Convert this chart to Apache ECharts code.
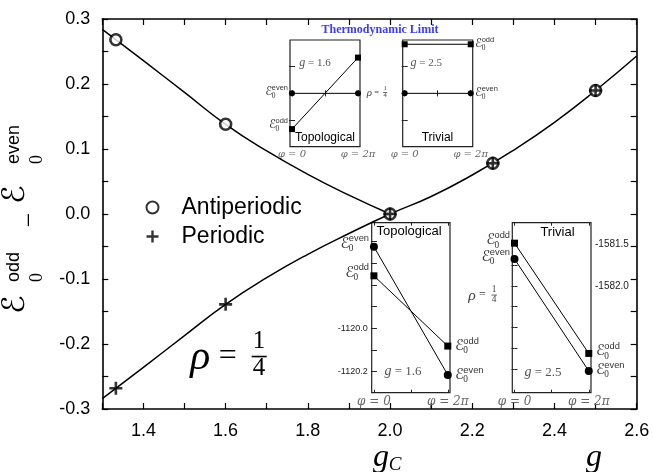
<!DOCTYPE html>
<html><head><meta charset="utf-8">
<script src="https://cdn.jsdelivr.net/npm/echarts@6/dist/echarts.min.js"></script>
<style>html,body{margin:0;padding:0;background:#fff}#c{width:653px;height:472px}</style>
</head><body><div id="c"></div><script>
// ---------------- main panel data ----------------
const gAntiperiodic = [1.333, 1.6, 2.0, 2.25, 2.5];
const dAntiperiodic = [0.268, 0.138, 0.0, 0.078, 0.19];
const gPeriodic = [1.333, 1.6, 2.0, 2.25, 2.5];
const dPeriodic = [-0.268, -0.139, 0.0, 0.078, 0.19];
const gUpperCurve = [1.3, 1.4, 1.5, 1.6, 1.7, 1.8, 1.9, 2.0];
const dUpperCurve = [0.284, 0.236, 0.187, 0.138, 0.097, 0.061, 0.029, 0.0];
const gLowerCurve = [1.3, 1.4, 1.5, 1.6, 1.7, 1.8, 1.9, 2.0, 2.1, 2.2, 2.3, 2.4, 2.5, 2.6];
const dLowerCurve = [-0.284, -0.236, -0.187, -0.139, -0.098, -0.062, -0.030, 0.0, 0.027, 0.060, 0.098, 0.141, 0.19, 0.243];
const xTicks = [1.3, 1.4, 1.5, 1.6, 1.7, 1.8, 1.9, 2.0, 2.1, 2.2, 2.3, 2.4, 2.5, 2.6];
const xTickLabels = ['1.4', '1.6', '1.8', '2.0', '2.2', '2.4', '2.6'];
const yTicks = [-0.3, -0.25, -0.2, -0.15, -0.1, -0.05, 0, 0.05, 0.1, 0.15, 0.2, 0.25, 0.3];
const yTickLabels = ['-0.3', '-0.2', '-0.1', '0.0', '0.1', '0.2', '0.3'];
const seriesNames = ['Antiperiodic', 'Periodic'];

// ---------------- inset data ----------------
const phiPoints = [0, 1];
const phiTicks = [0, 0.5, 1];
const phiLabels = ['φ = 0', 'φ = 2π'];
const thermoTicks = [-0.5, 0, 0.5];
const thermoTopoEven = [0, 0];
const thermoTopoOdd = [-0.67, 0.67];
const thermoTrivEven = [0, 0];
const thermoTrivOdd = [0.92, 0.92];
const finiteTopoEven = [-1119.624, -1120.215];
const finiteTopoOdd = [-1119.758, -1120.082];
const finiteTopoTicks = [-1120.2, -1120.1, -1120.0, -1119.9, -1119.8, -1119.7, -1119.6];
const finiteTopoTickLabels = ['-1120.2', '-1120.0'];
const finiteTrivEven = [-1581.68, -1583.02];
const finiteTrivOdd = [-1581.49, -1582.81];
const finiteTrivTicks = [-1583.0, -1582.75, -1582.5, -1582.25, -1582.0, -1581.75, -1581.5];
const finiteTrivTickLabels = ['-1582.0', '-1581.5'];
const insetTitles = ['Topological', 'Trivial', 'Topological', 'Trivial'];
const insetCoupling = ['g = 1.6', 'g = 2.5', 'g = 1.6', 'g = 2.5'];

const zip = (xs, ys) => xs.map((x, i) => [x, ys[i]]);
const plusPath = 'path://M0,4.8H12V7.2H0Z M4.8,0H7.2V12H4.8Z';

function mainX(pos, withLabels) {
  return {
    type: 'value', gridIndex: 0, position: pos, min: 1.3, max: 2.6,
    axisLine: { show: true, onZero: false, lineStyle: { color: '#000', width: 1.6 } },
    axisTick: { show: true, inside: true, length: 6, customValues: xTicks, lineStyle: { color: '#000', width: 1.2 } },
    axisLabel: withLabels ? { show: true, customValues: xTickLabels.map(Number), formatter: v => v.toFixed(1),
      fontSize: 18, fontFamily: 'Arial', color: '#000', margin: 13 } : { show: false },
    splitLine: { show: false }
  };
}
function mainY(pos, withLabels) {
  return {
    type: 'value', gridIndex: 0, position: pos, min: -0.3, max: 0.3,
    axisLine: { show: true, onZero: false, lineStyle: { color: '#000', width: 1.6 } },
    axisTick: { show: true, inside: true, length: 6, customValues: yTicks, lineStyle: { color: '#000', width: 1.2 } },
    axisLabel: withLabels ? { show: true, customValues: yTickLabels.map(Number), formatter: v => v.toFixed(1),
      fontSize: 18, fontFamily: 'Arial', color: '#000', margin: 12 } : { show: false },
    splitLine: { show: false }
  };
}
function insetX(gi, pos, font) {
  return {
    type: 'value', gridIndex: gi, position: pos, min: -0.03, max: 1.03,
    axisLine: { show: false },
    axisTick: { show: true, inside: true, length: 3, customValues: phiTicks, lineStyle: { color: '#222', width: 1 } },
    axisLabel: pos === 'bottom' ? { show: true, customValues: phiPoints,
      formatter: v => (v < 0.5 ? phiLabels[0] : phiLabels[1]),
      fontFamily: '"DejaVu Serif", serif', fontStyle: 'italic', fontSize: font, color: '#666', margin: 3 } : { show: false },
    splitLine: { show: false }
  };
}
function insetY(gi, pos, min, max, ticks, labels, labelSide, font) {
  return {
    type: 'value', gridIndex: gi, position: pos, min: min, max: max,
    axisLine: { show: false },
    axisTick: { show: true, inside: true, length: 3, customValues: ticks, lineStyle: { color: '#222', width: 1 } },
    axisLabel: (labels && pos === labelSide) ? { show: true, customValues: labels.map(Number), formatter: v => v.toFixed(1),
      fontSize: font, fontFamily: 'Arial', color: '#222', margin: 4 } : { show: false },
    splitLine: { show: false }
  };
}
const insetGrid = (l, t, w, h) => ({ left: l, top: t, width: w, height: h, show: true,
  backgroundColor: '#fff', borderColor: '#222', borderWidth: 1.2 });

function levelSeries(k, ys, symbol, size) {
  return { type: 'line', xAxisIndex: 2 * k, yAxisIndex: 2 * k, data: zip(phiPoints, ys),
    symbol: symbol, symbolSize: size, showSymbol: true, clip: false, silent: true,
    itemStyle: { color: '#000' }, lineStyle: { color: '#000', width: 1 }, z: 5 };
}

const chart = echarts.init(document.getElementById('c'));
chart.setOption({
  animation: false,
  backgroundColor: '#fff',
  grid: [
    { left: 102.3, top: 19, width: 534.4, height: 390 },
    insetGrid(290, 40, 70, 106.7),
    insetGrid(402.7, 40, 70, 106.7),
    insetGrid(371.7, 222.7, 78.3, 170),
    insetGrid(512.3, 222.7, 78.7, 170)
  ],
  xAxis: [
    mainX('bottom', true), mainX('top', false),
    insetX(1, 'bottom', 10), insetX(1, 'top', 10),
    insetX(2, 'bottom', 10), insetX(2, 'top', 10),
    insetX(3, 'bottom', 12), insetX(3, 'top', 12),
    insetX(4, 'bottom', 12), insetX(4, 'top', 12)
  ],
  yAxis: [
    mainY('left', true), mainY('right', false),
    insetY(1, 'left', -1, 1, thermoTicks, null, null, 9), insetY(1, 'right', -1, 1, thermoTicks, null, null, 9),
    insetY(2, 'left', -1, 1, thermoTicks, null, null, 9), insetY(2, 'right', -1, 1, thermoTicks, null, null, 9),
    insetY(3, 'left', -1120.297, -1119.513, finiteTopoTicks, finiteTopoTickLabels, 'left', 9),
    insetY(3, 'right', -1120.297, -1119.513, finiteTopoTicks, finiteTopoTickLabels, 'left', 9),
    insetY(4, 'left', -1583.28, -1581.245, finiteTrivTicks, finiteTrivTickLabels, 'right', 10),
    insetY(4, 'right', -1583.28, -1581.245, finiteTrivTicks, finiteTrivTickLabels, 'right', 10)
  ],
  legend: {
    data: seriesNames, orient: 'vertical', left: 140.5, top: 191, itemWidth: 12, itemHeight: 12, itemGap: 6,
    textStyle: { fontSize: 23, fontFamily: 'Arial', color: '#000', padding: [0, 0, 0, 18] },
    selectedMode: false
  },
  series: [
    { type: 'line', xAxisIndex: 0, yAxisIndex: 0, data: zip(gUpperCurve, dUpperCurve), smooth: 0.5,
      showSymbol: false, silent: true, lineStyle: { color: '#000', width: 1.5 }, z: 2 },
    { type: 'line', xAxisIndex: 0, yAxisIndex: 0, data: zip(gLowerCurve, dLowerCurve), smooth: 0.5,
      showSymbol: false, silent: true, lineStyle: { color: '#000', width: 1.5 }, z: 2 },
    { name: seriesNames[0], type: 'scatter', xAxisIndex: 0, yAxisIndex: 0, data: zip(gAntiperiodic, dAntiperiodic),
      symbol: 'circle', symbolSize: 11, itemStyle: { color: '#fff', borderColor: '#000', borderWidth: 2.6 }, z: 3 },
    { name: seriesNames[1], type: 'scatter', xAxisIndex: 0, yAxisIndex: 0, data: zip(gPeriodic, dPeriodic),
      symbol: plusPath, symbolSize: 13, itemStyle: { color: '#000' }, z: 4 },
    levelSeries(1, thermoTopoEven, 'circle', 6),
    levelSeries(1, thermoTopoOdd, 'rect', 6),
    levelSeries(2, thermoTrivEven, 'circle', 6),
    levelSeries(2, thermoTrivOdd, 'rect', 6),
    levelSeries(3, finiteTopoEven, 'circle', 8),
    levelSeries(3, finiteTopoOdd, 'rect', 7),
    levelSeries(4, finiteTrivEven, 'circle', 8),
    levelSeries(4, finiteTrivOdd, 'rect', 7)
  ]
});

// ---------------- annotations ----------------
const mctx = document.createElement('canvas').getContext('2d');
const tw = (t, f) => { mctx.font = f; return mctx.measureText(t).width; };
const px = (k, x, y) => chart.convertToPixel({ xAxisIndex: 2 * k, yAxisIndex: 2 * k }, [x, y]);

function T(x, y, text, font, fill, align, extra) {
  const a = align || 'center';
  return { type: 'text', x: x, y: y, z: 100, silent: true,
    style: Object.assign({ text: text, font: font, fill: fill || '#000', align: a, verticalAlign: 'middle',
      textAlign: a, textVerticalAlign: 'middle' }, extra || {}) };
}
const EFONT = s => s + 'px "DejaVu Serif", "DejaVu Sans", serif';
function eLabel(x, y, sup, s, side) {
  const fe = EFONT(s), fs = (0.62 * s) + 'px Arial', fz = (0.62 * s) + 'px "Liberation Serif", serif';
  const ew = tw('ℰ', fe) * 0.92;
  const total = ew + Math.max(tw(sup, fs), tw('0', fz));
  const x0 = side === 'right' ? x - total : x;
  const c = '#333';
  return { type: 'group', x: x0, y: y, z: 100, silent: true, children: [
    T(0, 0, 'ℰ', fe, c, 'left'),
    T(ew, -0.33 * s, sup, fs, c, 'left'),
    T(ew, 0.33 * s, '0', fz, c, 'left')
  ] };
}
function rhoQuarter(cx, cy, s, color) {
  const c = color || '#000';
  return { type: 'group', x: cx, y: cy, z: 100, silent: true, children: [
    T(-0.83 * s, 0.05 * s, 'ρ', 'italic ' + (1.3 * s) + 'px "Liberation Serif", serif', c),
    T(0.03 * s, 0, '=', (1.0 * s) + 'px "Liberation Serif", serif', c),
    T(1.01 * s, -0.47 * s, '1', (0.78 * s) + 'px "Liberation Serif", serif', c),
    { type: 'rect', z: 100, silent: true, shape: { x: 0.78 * s, y: -0.03 * s, width: 0.47 * s, height: Math.max(0.8, 0.05 * s) }, style: { fill: c } },
    T(1.01 * s, 0.37 * s, '4', (0.78 * s) + 'px "Liberation Serif", serif', c)
  ] };
}
function coupling(x, y, text, size) {
  return T(x, y, '{i|g}' + text.slice(1), size + 'px "Liberation Serif", serif', '#555', 'center',
    { rich: { i: { fontStyle: 'italic', fontSize: size + 1, fontFamily: '"Liberation Serif", serif', fill: '#555' } } });
}

const g = [];
// axis names
g.push(T(381, 458, 'g', 'italic 32px "Liberation Serif", serif', '#000'));
g.push(T(395, 465, 'C', 'italic 19px "Liberation Serif", serif', '#000'));
g.push(T(594, 458, 'g', 'italic 32px "Liberation Serif", serif', '#000'));
// y axis title (rotated)
g.push({ type: 'group', x: 25, y: 213, rotation: Math.PI / 2, z: 100, silent: true, children: [
  T(-101, -9, 'ℰ', EFONT(31), '#000', 'left'),
  T(-69, -11, 'odd', '18px Arial', '#000', 'left'),
  T(-69, 12, '0', '18px "Liberation Serif", serif', '#000', 'left'),
  T(-7, 5, '−', '26px "Liberation Serif", serif', '#000'),
  T(9, -9, 'ℰ', EFONT(31), '#000', 'left'),
  T(49, -11, 'even', '18px Arial', '#000', 'left'),
  T(49, 12, '0', '18px "Liberation Serif", serif', '#000', 'left')
] });
// big rho
g.push(rhoQuarter(226.7, 356.7, 32));
// thermodynamic limit insets
g.push(T(380, 29.5, 'Thermodynamic Limit', 'bold 12px "Liberation Serif", serif', '#3c3cff'));
g.push(T(325, 137.3, insetTitles[0], '12px Arial', '#000'));
g.push(T(437.5, 137.3, insetTitles[1], '12px Arial', '#000'));
g.push(coupling(315, 63.3, insetCoupling[0], 11));
g.push(coupling(426.3, 63.3, insetCoupling[1], 11));
g.push(rhoQuarter(376.5, 92.5, 8.5, '#444'));
g.push(T(409, 231, insetTitles[2], '13px Arial', '#000'));
g.push(T(557.5, 232, insetTitles[3], '13px Arial', '#000'));
g.push(coupling(403, 371.7, insetCoupling[2], 13));
g.push(coupling(543, 372.7, insetCoupling[3], 13));
g.push(rhoQuarter(482, 295, 12, '#444'));

// energy labels next to level points
let p;
p = px(1, 0, thermoTopoEven[0]); g.push(eLabel(288, p[1] - 1, 'even', 12, 'right'));
p = px(1, 0, thermoTopoOdd[0]); g.push(eLabel(288, p[1] - 4, 'odd', 12, 'right'));
p = px(2, 1, thermoTrivOdd[1]); g.push(eLabel(475, p[1], 'odd', 12, 'left'));
p = px(2, 1, thermoTrivEven[1]); g.push(eLabel(475, p[1], 'even', 12, 'left'));
p = px(3, 0, finiteTopoEven[0]); g.push(eLabel(369, p[1] - 3, 'even', 15, 'right'));
p = px(3, 0, finiteTopoOdd[0]); g.push(eLabel(369, p[1] - 3, 'odd', 15, 'right'));
p = px(3, 1, finiteTopoOdd[1]); g.push(eLabel(455, p[1], 'odd', 15, 'left'));
p = px(3, 1, finiteTopoEven[1]); g.push(eLabel(455, p[1], 'even', 15, 'left'));
p = px(4, 0, finiteTrivOdd[0]); g.push(eLabel(510, p[1] - 3, 'odd', 15, 'right'));
p = px(4, 0, finiteTrivEven[0]); g.push(eLabel(510, p[1] - 2, 'even', 15, 'right'));
p = px(4, 1, finiteTrivOdd[1]); g.push(eLabel(596, p[1] - 2, 'odd', 15, 'left'));
p = px(4, 1, finiteTrivEven[1]); g.push(eLabel(596, p[1] - 1, 'even', 15, 'left'));

chart.setOption({ graphic: { elements: g } });
</script></body></html>
